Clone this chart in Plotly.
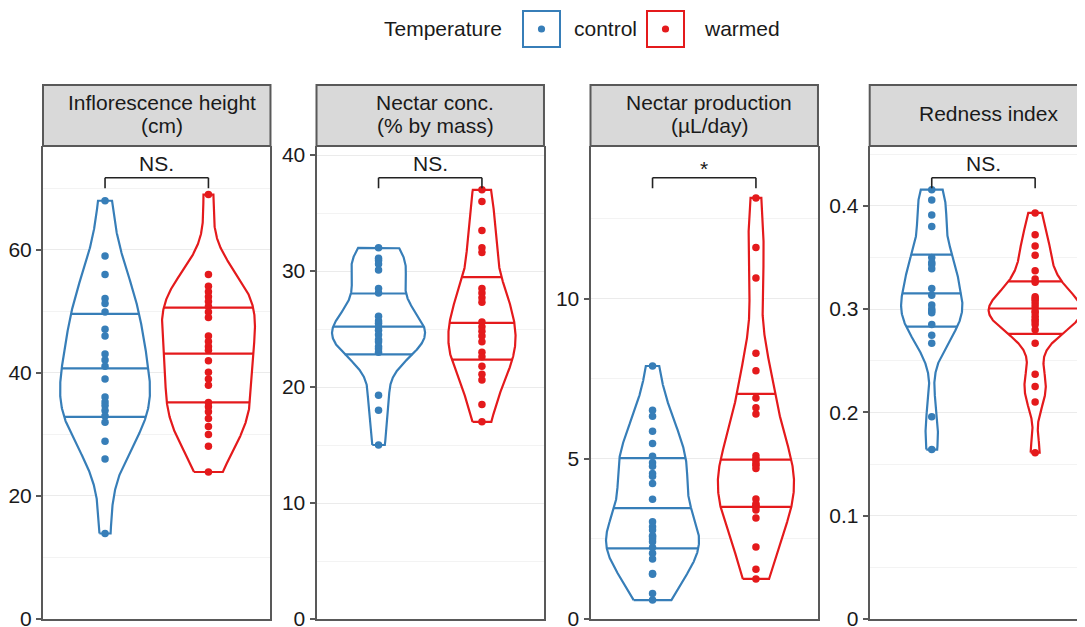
import numpy as np
import plotly.graph_objects as go

# ---------------- data ----------------
groups = ["control", "warmed"]
group_colors = ["#377EB8", "#E41A1C"]
legend_title = "Temperature"

strip_lines = [["Inflorescence height", "(cm)"],
               ["Nectar conc.", "(% by mass)"],
               ["Nectar production", "(µL/day)"],
               ["Redness index"]]
significance = ["NS.", "NS.", "*", "NS."]

infl_control = [68.0, 59.0, 56.0, 52.1, 51.3, 49.9, 47.1, 46.0, 43.1, 42.1, 41.1,
                39.0, 36.1, 35.3, 34.7, 33.9, 33.0, 32.0, 28.9, 26.0, 13.9]
infl_warmed = [69.0, 56.0, 54.1, 53.2, 52.4, 51.6, 50.8, 49.9, 49.0, 46.0, 45.1,
               44.3, 43.7, 42.0, 40.1, 39.0, 38.0, 35.2, 34.5, 33.7, 32.6, 31.3,
               30.0, 28.1, 23.9]

conc_control = [32.0, 31.1, 30.9, 30.6, 30.1, 28.5, 28.1, 26.1, 25.7, 25.5, 25.2,
                24.9, 24.5, 24.1, 23.9, 23.5, 23.3, 23.0, 19.3, 18.0, 15.0]
conc_warmed = [37.0, 36.0, 33.5, 32.0, 31.6, 28.5, 28.1, 27.7, 27.3, 25.6, 25.2,
               24.8, 24.4, 23.9, 23.0, 22.6, 21.8, 21.1, 20.6, 18.5, 17.0]

prod_control = [7.90, 6.52, 6.33, 5.86, 5.48, 5.08, 4.88, 4.77, 4.54, 4.46, 4.23,
                3.74, 3.04, 2.88, 2.78, 2.60, 2.57, 2.50, 2.41, 2.23, 2.05,
                1.87, 1.42, 1.40, 0.80, 0.59]
prod_warmed = [13.15, 11.6, 10.65, 8.3, 7.75, 6.9, 6.6, 6.4, 5.1, 5.0, 4.95, 4.85,
               4.8, 4.7, 3.75, 3.6, 3.55, 3.5, 3.4, 3.15, 2.25, 1.55, 1.25]

red_control = [0.4155, 0.4055, 0.391, 0.380, 0.350, 0.345, 0.343, 0.339, 0.320,
               0.3133, 0.304, 0.300, 0.298, 0.2965, 0.285, 0.2746, 0.2668, 0.1957,
               0.164]
red_warmed = [0.393, 0.372, 0.361, 0.352, 0.337, 0.329, 0.326, 0.312, 0.310, 0.308,
              0.305, 0.302, 0.2965, 0.298, 0.293, 0.290, 0.288, 0.285, 0.280,
              0.267, 0.237, 0.225, 0.210, 0.161]

panel_data = [[infl_control, infl_warmed],
              [conc_control, conc_warmed],
              [prod_control, prod_warmed],
              [red_control, red_warmed]]

y_ticks = [[0, 20, 40, 60], [0, 10, 20, 30, 40], [0, 5, 10], [0, 0.1, 0.2, 0.3, 0.4]]
y_tick_text = [["0", "20", "40", "60"], ["0", "10", "20", "30", "40"],
               ["0", "5", "10"], ["0", "0.1", "0.2", "0.3", "0.4"]]
y_minor = [10, 5, 2.5, 0.05]
y_top = [76.9, 40.78, 14.77, 0.4578]


# ---------------- violin geometry (ggplot-like KDE) ----------------
def bw_nrd0(x):
    x = np.asarray(x, float)
    hi = np.std(x, ddof=1)
    iqr = np.percentile(x, 75) - np.percentile(x, 25)
    lo = min(hi, iqr / 1.34) if iqr > 0 else hi
    return 0.9 * lo * len(x) ** (-0.2)


def kde(x, n=512):
    x = np.asarray(x, float)
    bw = bw_nrd0(x)
    grid = np.linspace(x.min(), x.max(), n)
    z = (grid[:, None] - x[None, :]) / bw
    d = np.exp(-0.5 * z ** 2).sum(axis=1) / (len(x) * bw * np.sqrt(2 * np.pi))
    return grid, d


# ---------------- layout geometry ----------------
OFF = 8                      # page body margin of the html page
W, H = 1085 - OFF, 627 - OFF  # figure size so that it ends at the window edge
FONT = "Liberation Sans, Arial, Helvetica, sans-serif"
TXT = "#1a1a1a"
LINE = "#595959"
panel_left = [43, 316.5, 590.5, 869.7]
unit_px = 103.4
panel_top_px, panel_bot_px = 146, 619
strip_top_px = 85
TSHIFT = 1.5
STRIP_DX = 5


def fx(p):
    return (p - OFF) / W


def fy(p):
    return 1 - (p - OFF) / H


fig = go.Figure()
shapes = []
annotations = []

for i in range(4):
    ax = "" if i == 0 else str(i + 1)
    xref, yref = "x" + ax, "y" + ax
    left = panel_left[i]
    right = left + 2.2 * unit_px
    dom_right = min(right, 1085)
    x_hi = 0.4 + (dom_right - left) / unit_px

    dens = [kde(v) for v in panel_data[i]]
    dmax = max(d.max() for _, d in dens)
    for g in range(2):
        grid, d = dens[g]
        vals = panel_data[i][g]
        xc = g + 1
        hw = 0.45 * d / dmax
        xs = np.concatenate([xc - hw, (xc + hw)[::-1], [xc - hw[0]]])
        ys = np.concatenate([grid, grid[::-1], [grid[0]]])
        fig.add_trace(go.Scatter(x=xs, y=ys, mode="lines", fill="toself",
                                 fillcolor="white",
                                 line=dict(color=group_colors[g], width=2.2),
                                 xaxis=xref, yaxis=yref, showlegend=False,
                                 hoverinfo="skip"))
        cdf = np.cumsum(d) / d.sum()
        qx, qy = [], []
        for q in (0.25, 0.5, 0.75):
            yq = np.interp(q, cdf, grid)
            wq = np.interp(yq, grid, hw)
            qx += [xc - wq, xc + wq, None]
            qy += [yq, yq, None]
        fig.add_trace(go.Scatter(x=qx, y=qy, mode="lines",
                                 line=dict(color=group_colors[g], width=2.2),
                                 xaxis=xref, yaxis=yref, showlegend=False,
                                 hoverinfo="skip"))
        fig.add_trace(go.Scatter(x=[xc] * len(vals), y=vals, mode="markers",
                                 marker=dict(color=group_colors[g], size=7.5,
                                             line=dict(width=0)),
                                 xaxis=xref, yaxis=yref, showlegend=False,
                                 name=groups[g]))

    fig.update_layout(**{
        "xaxis" + ax: dict(domain=[fx(left), min(fx(dom_right), 1.0)],
                           range=[0.4, x_hi], automargin=False,
                           showgrid=False, zeroline=False, showticklabels=False,
                           showline=True, linecolor=LINE, linewidth=2,
                           ticks="", fixedrange=True),
        "yaxis" + ax: dict(domain=[max(fy(panel_bot_px), 0), fy(panel_top_px)],
                           range=[0, y_top[i]], anchor="x" + ax,
                           automargin=False,
                           tickvals=y_ticks[i], ticktext=y_tick_text[i],
                           ticklabeloverflow="allow",
                           showgrid=True, gridcolor="#EBEBEB", gridwidth=1.3,
                           minor=dict(dtick=y_minor[i], showgrid=True,
                                      gridcolor="#F3F3F3", gridwidth=1),
                           zeroline=False, showline=True, linecolor=LINE,
                           linewidth=2, mirror=(i < 3), ticks="outside",
                           ticklen=5, tickwidth=2, tickcolor=LINE,
                           tickfont=dict(family=FONT, size=21, color=TXT),
                           fixedrange=True),
    })
    if i > 0:
        fig.update_layout(**{"xaxis" + ax: dict(anchor="y" + ax)})

    # strip
    shapes.append(dict(type="rect", xref="paper", yref="paper",
                       x0=fx(left), x1=fx(right) if right <= 1085 else 1.02,
                       y0=fy(panel_top_px), y1=fy(strip_top_px),
                       fillcolor="#D9D9D9", line=dict(color=LINE, width=2),
                       layer="above"))
    cx = fx(left + 1.1 * unit_px + STRIP_DX)
    lines = strip_lines[i]
    pos = [104, 127] if len(lines) == 2 else [115]
    for t, p in zip(lines, pos):
        annotations.append(dict(text=t, x=cx, y=fy(p - TSHIFT), xref="paper",
                                yref="paper", showarrow=False, xanchor="center",
                                yanchor="middle",
                                font=dict(family=FONT, size=21, color=TXT)))

    # significance bracket
    yd_bar, yd_tip = 0.933, 0.9106
    for (x0, y0, x1, y1) in [(1, yd_tip, 1, yd_bar), (1, yd_bar, 2, yd_bar),
                             (2, yd_bar, 2, yd_tip)]:
        shapes.append(dict(type="line", xref=xref, yref=yref + " domain",
                           x0=x0, x1=x1, y0=y0, y1=y1,
                           line=dict(color="#222222", width=1.6)))
    annotations.append(dict(text=significance[i], x=1.5,
                            y=0.962 if significance[i] != "*" else 0.952,
                            xref=xref, yref=yref + " domain", showarrow=False,
                            xanchor="center", yanchor="middle",
                            font=dict(family=FONT, size=21, color=TXT)))

# ---------------- manual legend (ggplot style keys) ----------------
annotations.append(dict(text=legend_title, x=fx(504), y=fy(30 - TSHIFT),
                        xref="paper", yref="paper", showarrow=False,
                        xanchor="right", yanchor="middle",
                        font=dict(family=FONT, size=21, color=TXT)))
key_left = [523, 647]
label_left = [572, 702]
for g in range(2):
    shapes.append(dict(type="rect", xref="paper", yref="paper",
                       x0=fx(key_left[g]), x1=fx(key_left[g] + 37),
                       y0=fy(47), y1=fy(11), fillcolor="white",
                       line=dict(color=group_colors[g], width=2)))
    cxk = key_left[g] + 18.5
    shapes.append(dict(type="circle", xref="paper", yref="paper",
                       x0=fx(cxk - 3.6), x1=fx(cxk + 3.6),
                       y0=fy(29 + 3.6), y1=fy(29 - 3.6),
                       fillcolor=group_colors[g], line=dict(width=0)))
    annotations.append(dict(text=groups[g], x=fx(label_left[g]),
                            y=fy(30 - TSHIFT), xref="paper", yref="paper",
                            showarrow=False, xanchor="left", yanchor="middle",
                            font=dict(family=FONT, size=21, color=TXT)))

fig.update_layout(width=W, height=H, margin=dict(l=0, r=0, t=0, b=0),
                  paper_bgcolor="white", plot_bgcolor="white",
                  showlegend=False, shapes=shapes, annotations=annotations,
                  font=dict(family=FONT, size=21, color=TXT))

fig.write_html("out.html")
